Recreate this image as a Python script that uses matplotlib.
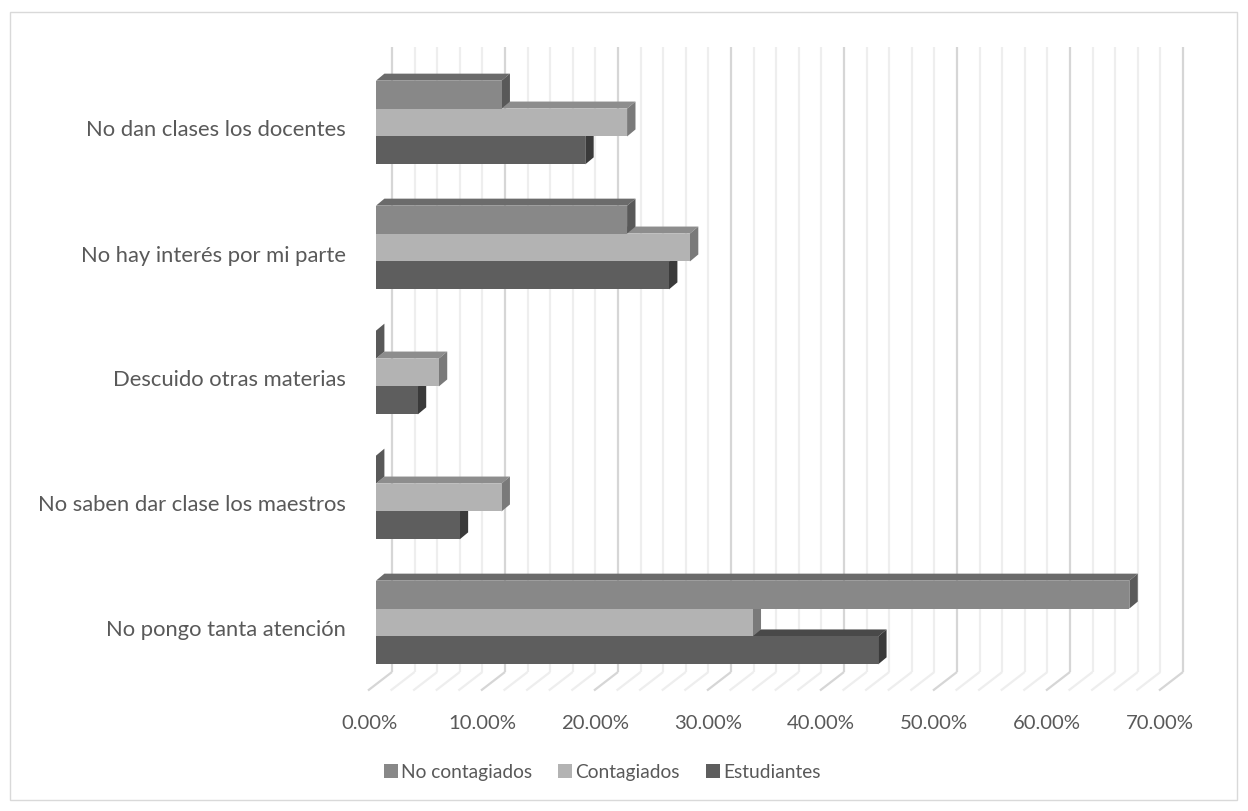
import matplotlib
matplotlib.use("Agg")
import matplotlib.pyplot as plt
from matplotlib.patches import Polygon, Rectangle

# ---- data -------------------------------------------------------------
categories = [
    "No dan clases los docentes",
    "No hay interés por mi parte",
    "Descuido otras materias",
    "No saben dar clase los maestros",
    "No pongo tanta atención",
]
no_contagiados = [11.11, 22.22, 0.0, 0.0, 66.67]
contagiados = [22.22, 27.78, 5.56, 11.11, 33.33]
estudiantes = [18.52, 25.93, 3.70, 7.41, 44.44]
series_names = ["No contagiados", "Contagiados", "Estudiantes"]
x_ticks = [0, 10, 20, 30, 40, 50, 60, 70]
tick_labels = [f"{t:.2f}%" for t in x_ticks]

# ---- figure / scale ---------------------------------------------------
W, H, DPI = 1248, 812, 100
PX_PCT = 11.3     # pixels per percentage point
PX_CAT = 125.0    # pixels per category
X0_PX, Y0_PX = 376.0, 123.5   # where x=0 / first category fall on the canvas
XLIM = (-3.0, 75.0)
YLIM = (5.0, -0.7)

FONT = "Lato"
TXT = "#595959"
FS_CAT = 15.8
FS_TICK = 14.6
FS_LEG = 13.8

fig = plt.figure(figsize=(W / DPI, H / DPI), dpi=DPI)
left_px = X0_PX + XLIM[0] * PX_PCT
top_px = Y0_PX + YLIM[1] * PX_CAT
w_px = (XLIM[1] - XLIM[0]) * PX_PCT
h_px = (YLIM[0] - YLIM[1]) * PX_CAT
ax = fig.add_axes([left_px / W, 1 - (top_px + h_px) / H, w_px / W, h_px / H])
ax.set_xlim(*XLIM)
ax.set_ylim(*YLIM)
ax.axis("off")


def dx(px):
    return px / PX_PCT


def dy(px):
    return px / PX_CAT


# ---- back wall and floor gridlines -------------------------------------
back_dx, back_dy = dx(16.0), dy(-12.3)
front_dx, front_dy = dx(-8.0), dy(6.2)
wall_top = dy(48 - Y0_PX)
floor_bar = dy(685.3 - Y0_PX)
for k in range(0, 36):
    v = 2 * k
    major = v % 10 == 0
    col = "#d6d6d6" if major else "#eeeeee"
    z = 0.6 if major else 0.5
    ax.plot([v + back_dx, v + back_dx], [wall_top, floor_bar + back_dy],
            color=col, lw=1.6, zorder=z, solid_capstyle="butt")
    ax.plot([v + back_dx, v + front_dx], [floor_bar + back_dy, floor_bar + front_dy],
            color=col, lw=1.6, zorder=z, solid_capstyle="butt")

# ---- 3D bars ----------------------------------------------------------
bh = dy(27.9)
depth_x, depth_y = dx(8.4), dy(-7.0)
styles = {
    "No contagiados": dict(front="#888888", top="#6b6b6b", side="#595959", off=-bh, z=4),
    "Contagiados": dict(front="#b3b3b3", top="#8d8d8d", side="#7a7a7a", off=0.0, z=3),
    "Estudiantes": dict(front="#5e5e5e", top="#494949", side="#3a3a3a", off=bh, z=2),
}
values = {"No contagiados": no_contagiados, "Contagiados": contagiados,
          "Estudiantes": estudiantes}

handles = {}
for name in ["Estudiantes", "Contagiados", "No contagiados"]:
    st = styles[name]
    vals = values[name]
    ys = [i + st["off"] for i in range(len(categories))]
    for y, v in zip(ys, vals):
        yt, yb = y - bh / 2, y + bh / 2
        top = Polygon([(0, yt), (v, yt), (v + depth_x, yt + depth_y), (depth_x, yt + depth_y)],
                      closed=True, fc=st["top"], ec="none", zorder=st["z"])
        side = Polygon([(v, yt), (v + depth_x, yt + depth_y), (v + depth_x, yb + depth_y), (v, yb)],
                       closed=True, fc=st["side"], ec="none", zorder=st["z"])
        ax.add_patch(top)
        ax.add_patch(side)
    handles[name] = ax.barh(ys, vals, height=bh, left=0, color=st["front"],
                            edgecolor="none", zorder=st["z"] + 0.1, label=name)

# ---- labels -----------------------------------------------------------
for i, cat in enumerate(categories):
    ax.text(dx(-30), i + dy(7), cat, ha="right", va="center", fontsize=FS_CAT,
            family=FONT, color=TXT)

tick_y = dy(724 - Y0_PX)
for t, lab in zip(x_ticks, tick_labels):
    ax.text(t + dx(-7), tick_y, lab, ha="center", va="center", fontsize=FS_TICK,
            family=FONT, color=TXT)

leg = fig.legend([handles[n] for n in series_names], series_names,
                 loc="center", bbox_to_anchor=(602 / W, 1 - 773 / H), ncol=3,
                 frameon=False, prop=dict(family=FONT, size=FS_LEG),
                 handlelength=0.73, handleheight=0.73, handletextpad=0.17,
                 columnspacing=1.35, labelcolor=TXT)

fig.add_artist(Rectangle((10 / W, 1 - 801 / H), 1227 / W, 788 / H,
                         transform=fig.transFigure, fill=False,
                         ec="#d9d9d9", lw=1.0))

fig.savefig("out.png", dpi=DPI, facecolor="white")
